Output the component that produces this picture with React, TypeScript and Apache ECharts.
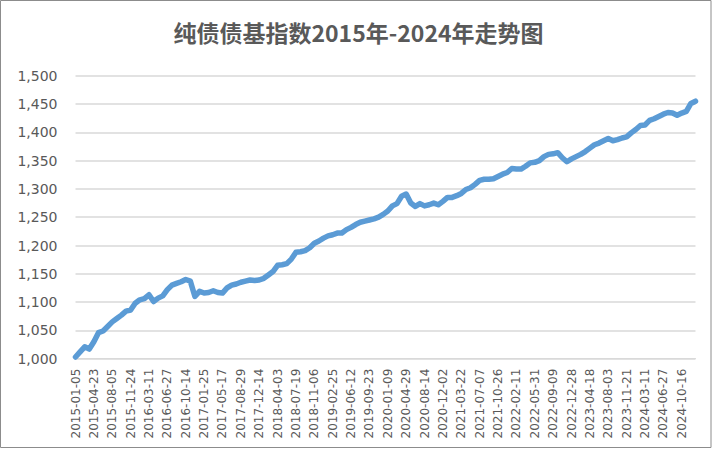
import React, { useEffect, useRef } from "react";
import * as echarts from "echarts";

const titleText = "纯债债基指数2015年-2024年走势图";

const dates: string[] = [
  "2015-01-05", "2015-01-30", "2015-03-04", "2015-03-27",
  "2015-04-23", "2015-05-20", "2015-06-15", "2015-07-10",
  "2015-08-05", "2015-08-31", "2015-09-28", "2015-10-28",
  "2015-11-24", "2015-12-17", "2016-01-13", "2016-02-15",
  "2016-03-11", "2016-04-06", "2016-05-04", "2016-05-31",
  "2016-06-27", "2016-07-21", "2016-08-16", "2016-09-09",
  "2016-10-14", "2016-11-08", "2016-12-02", "2016-12-28",
  "2017-01-25", "2017-02-28", "2017-03-23", "2017-04-20",
  "2017-05-17", "2017-06-12", "2017-07-06", "2017-08-01",
  "2017-08-29", "2017-09-22", "2017-10-24", "2017-11-17",
  "2017-12-14", "2018-01-10", "2018-02-05", "2018-03-09",
  "2018-04-03", "2018-05-02", "2018-05-28", "2018-06-22",
  "2018-07-19", "2018-08-14", "2018-09-07", "2018-10-10",
  "2018-11-06", "2018-11-30", "2018-12-26", "2019-01-23",
  "2019-02-25", "2019-03-21", "2019-04-17", "2019-05-15",
  "2019-06-12", "2019-07-08", "2019-08-01", "2019-08-27",
  "2019-09-23", "2019-10-24", "2019-11-19", "2019-12-13",
  "2020-01-09", "2020-02-12", "2020-03-09", "2020-04-02",
  "2020-04-29", "2020-05-27", "2020-06-22", "2020-07-17",
  "2020-08-14", "2020-09-09", "2020-10-10", "2020-11-05",
  "2020-12-02", "2020-12-25", "2021-01-22", "2021-02-24",
  "2021-03-22", "2021-04-15", "2021-05-13", "2021-06-09",
  "2021-07-07", "2021-07-30", "2021-08-25", "2021-09-22",
  "2021-10-26", "2021-11-19", "2021-12-15", "2022-01-11",
  "2022-02-11", "2022-03-10", "2022-04-06", "2022-05-05",
  "2022-05-31", "2022-06-24", "2022-07-20", "2022-08-15",
  "2022-09-09", "2022-10-11", "2022-11-04", "2022-12-01",
  "2022-12-28", "2023-01-19", "2023-02-22", "2023-03-21",
  "2023-04-18", "2023-05-16", "2023-06-12", "2023-07-07",
  "2023-08-03", "2023-08-29", "2023-09-22", "2023-10-26",
  "2023-11-21", "2023-12-15", "2024-01-10", "2024-02-05",
  "2024-03-11", "2024-04-08", "2024-05-07", "2024-06-03",
  "2024-06-27", "2024-07-23", "2024-08-16", "2024-09-11",
  "2024-10-16", "2024-11-08", "2024-12-04", "2024-12-31",
];

const indexValues: number[] = [
  1003, 1012, 1021, 1017,
  1030, 1046, 1049, 1057,
  1065, 1071, 1077, 1084,
  1086, 1098, 1104, 1106,
  1113, 1101, 1107, 1111,
  1122, 1130, 1133, 1136,
  1140, 1137, 1110, 1119,
  1116, 1117, 1120, 1117,
  1116, 1125, 1130, 1132,
  1135, 1137, 1139, 1138,
  1139, 1142, 1148, 1154,
  1165, 1166, 1168, 1176,
  1188, 1189, 1191, 1196,
  1204, 1208, 1213, 1217,
  1219, 1222, 1222, 1228,
  1232, 1237, 1241, 1243,
  1245, 1247, 1250, 1255,
  1261, 1270, 1274, 1287,
  1291, 1275, 1269, 1274,
  1270, 1272, 1275, 1272,
  1278, 1285, 1285, 1288,
  1292, 1299, 1302, 1308,
  1315, 1317, 1317, 1318,
  1322, 1326, 1329, 1336,
  1335, 1335, 1340, 1346,
  1347, 1350, 1357, 1361,
  1362, 1364, 1355, 1348,
  1353, 1357, 1361, 1366,
  1372, 1378, 1381, 1385,
  1389, 1385, 1387, 1390,
  1392, 1399, 1405, 1412,
  1413, 1421, 1424, 1428,
  1432, 1435, 1434, 1430,
  1434, 1437, 1451, 1455,
];

const yMin = 1000;
const yMax = 1500;
const yStep = 50;

const fmtThousands = (v: number) => {
  const s = String(Math.round(v));
  return s.replace(/\B(?=(\d{3})+(?!\d))/g, ",");
};

export default function App() {
  const ref = useRef<HTMLDivElement>(null);

  useEffect(() => {
    if (!ref.current) return;
    const chart = echarts.init(ref.current, undefined, { renderer: "svg" });
    chart.setOption({
      animation: false,
      backgroundColor: "#ffffff",
      title: {
        text: titleText,
        left: "center",
        top: 15,
        textStyle: {
          fontFamily: "Noto Sans CJK SC",
          fontSize: 23,
          fontWeight: "bold",
          color: "#595959",
        },
      },
      grid: { left: 75.5, right: 21.5, top: 75.7, bottom: 92.3, containLabel: false },
      xAxis: {
        type: "category",
        data: dates,
        boundaryGap: false,
        axisLine: { show: true, lineStyle: { color: "#D9D9D9", width: 1 } },
        axisTick: { show: false },
        splitLine: { show: false },
        axisLabel: {
          interval: 3,
          rotate: 90,
          margin: 10,
          fontSize: 12,
          fontFamily: "DejaVu Sans",
          color: "#595959",
        },
      },
      yAxis: {
        type: "value",
        min: yMin,
        max: yMax,
        interval: yStep,
        axisLine: { show: false },
        axisTick: { show: false },
        splitLine: { lineStyle: { color: "#D9D9D9", width: 1.5 } },
        axisLabel: {
          margin: 18,
          fontSize: 14,
          fontFamily: "DejaVu Sans",
          color: "#595959",
          formatter: (v: number) => fmtThousands(v),
        },
      },
      series: [
        {
          type: "line",
          data: indexValues,
          showSymbol: false,
          smooth: false,
          lineStyle: { color: "#5B9BD5", width: 5.5, cap: "round", join: "round" },
          itemStyle: { color: "#5B9BD5" },
        },
      ],
      graphic: [
        {
          type: "rect",
          shape: { x: 0.5, y: 0.5, width: 710.5, height: 447 },
          style: { fill: "none", stroke: "#8C8C8C", lineWidth: 1 },
          silent: true,
        },
      ],
    });
    return () => chart.dispose();
  }, []);

  return (
    <div
      ref={ref}
      style={{ position: "fixed", left: 0, top: 0, width: 717, height: 451 }}
    />
  );
}
